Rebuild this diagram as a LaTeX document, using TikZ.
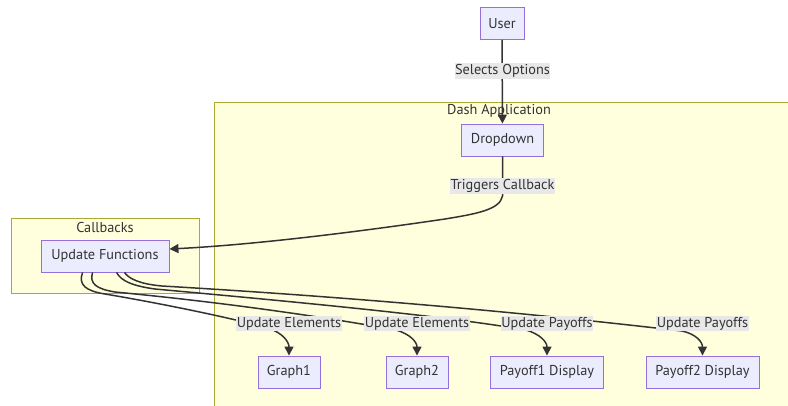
\documentclass[tikz,border=0pt]{standalone}
\usepackage{fontspec}
\setmainfont{PT Sans}
\usetikzlibrary{arrows.meta,calc}
\definecolor{nodefill}{HTML}{ECECFF}
\definecolor{nodeline}{HTML}{9370DB}
\definecolor{clusterfill}{HTML}{FFFFDE}
\definecolor{clusterline}{HTML}{AAAA33}
\definecolor{lblfill}{HTML}{E8E8E8}
\definecolor{ink}{HTML}{333333}
\tikzset{
  x=1pt, y=-1pt,
  every node/.style={font=\fontsize{14.3}{17}\selectfont, text=ink},
  box/.style={draw=nodeline, fill=nodefill, line width=0.9pt, minimum height=32pt, inner sep=0pt},
  cluster/.style={draw=clusterline, fill=clusterfill, line width=0.8pt},
  clusterlabel/.style={inner sep=0pt},
  edgelabel/.style={fill=lblfill, inner xsep=0.4pt, inner ysep=1.4pt},
  flow/.style={draw=ink, line width=1.5pt, -{Triangle[length=9pt,width=9pt]}},
}
\begin{document}
\begin{tikzpicture}
\useasboundingbox (0,0) rectangle (788,405);
% clusters
\draw[cluster] (214,102) rectangle (798,415);
\draw[cluster] (11,218) rectangle (199,293.5);
\node[clusterlabel] (dashlbl) at (499,111) {Dash Application};
\node[clusterlabel] (cblbl) at (105,227) {Callbacks};
% nodes
\node[box, minimum width=44pt] (user) at (502,23.5) {User};
\node[box, minimum width=82pt] (dropdown) at (502.5,140) {Dropdown};
\node[box, minimum width=128pt] (uf) at (105,256) {Update Functions};
\node[box, minimum width=62pt] (g1) at (289,372) {Graph1};
\node[box, minimum width=62pt] (g2) at (417,372) {Graph2};
\node[box, minimum width=113pt] (p1) at (547,372) {Payoff1 Display};
\node[box, minimum width=113pt] (p2) at (702.5,372) {Payoff2 Display};
% edges
\draw[flow] (user) -- (dropdown);
\draw[flow] (dropdown.south) -- (502.5,196)
  .. controls (500,210) and (475,214) .. (445,219)
  .. controls (350,233) and (250,245) .. ([yshift=7pt]uf.east);
\draw[flow] ([xshift=42pt]uf.south west)
  .. controls (78,285) and (86,291) .. (105,294)
  .. controls (170,305) and (235,319) .. (268,328)
  .. controls (283,333) and (289,342) .. (g1.north);
\draw[flow] ([xshift=52pt]uf.south west)
  .. controls (89,284) and (97,289) .. (115,292)
  .. controls (230,303) and (330,318) .. (396,330)
  .. controls (410,334) and (417,342) .. (g2.north);
\draw[flow] ([xshift=76pt]uf.south west)
  .. controls (121,281) and (133,286) .. (155,289)
  .. controls (330,305) and (450,317) .. (526,330)
  .. controls (540,334) and (547,342) .. (p1.north);
\draw[flow] ([xshift=84pt]uf.south west)
  .. controls (129,279) and (140,284) .. (162,286)
  .. controls (400,300) and (570,318) .. (682,331)
  .. controls (696,334) and (702.5,342) .. (p2.north);
% edge labels
\node[edgelabel] (l1) at (502.5,71) {Selects Options};
\node[edgelabel] (l2) at (502.5,186) {Triggers Callback};
\node[edgelabel] (l3) at (289,323.5) {Update Elements};
\node[edgelabel] (l4) at (417,323.5) {Update Elements};
\node[edgelabel] (l5) at (547,323.5) {Update Payoffs};
\node[edgelabel] (l6) at (702.5,323.5) {Update Payoffs};
\end{tikzpicture}
\end{document}
